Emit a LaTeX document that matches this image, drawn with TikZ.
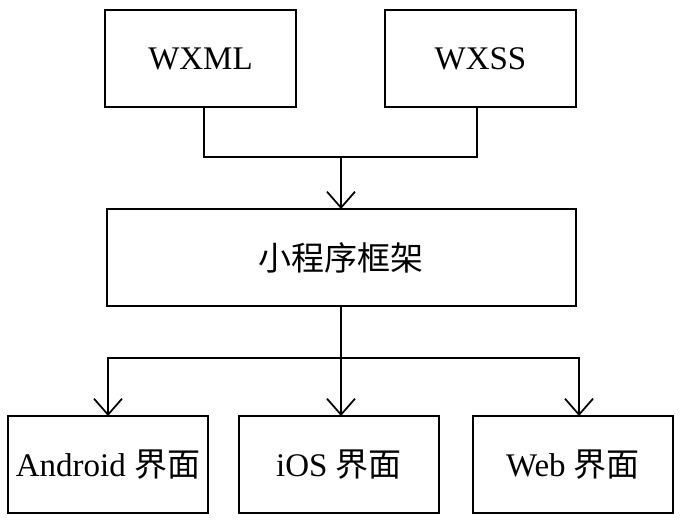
\documentclass[tikz,border=0pt]{standalone}
\usepackage{fontspec}
\setmainfont{Liberation Serif}
\newfontfamily\cjk{Noto Sans CJK SC}
\usetikzlibrary{arrows.meta}
\begin{document}
\begin{tikzpicture}[x=0.75pt,y=-0.75pt,line width=1.5pt,
	box/.style={draw,rectangle,inner sep=0pt,outer sep=0pt,minimum height=72.75pt,font=\fontsize{24.75}{30}\selectfont},
	arr/.style={-{Straight Barb[length=12pt,width=21pt,line width=1.3pt]},line width=1.3pt}]
	\useasboundingbox (0,0) rectangle (682,522);
	\node[box,minimum width=143.25pt] (wxml) at (200.5,58.5) {WXML};
	\node[box,minimum width=143.25pt] (wxss) at (480.5,58.5) {WXSS};
	\node[box,minimum width=351.75pt] (frame) at (341,257.5) {\cjk 小程序框架};
	\node[box,minimum width=150pt] (android) at (108,464.5) {Android {\cjk 界面}};
	\node[box,minimum width=150pt] (ios) at (339,464.5) {iOS {\cjk 界面}};
	\node[box,minimum width=150pt] (web) at (573,464.5) {Web {\cjk 界面}};
	\coordinate (join) at (341,157);
	\coordinate (split) at (341,358);
	\draw[line width=1.3pt] ([xshift=2.6pt]wxml.south) |- (join) -| ([xshift=-2.6pt]wxss.south);
	\draw[arr] (join) -- (frame.north);
	\draw[line width=1.3pt] (frame.south) -- (split);
	\draw[arr] (split) -| (android.north);
	\draw[arr] (split) -- (ios.north -| split);
	\draw[arr] (split) -| ([xshift=4.5pt]web.north);
\end{tikzpicture}
\end{document}
